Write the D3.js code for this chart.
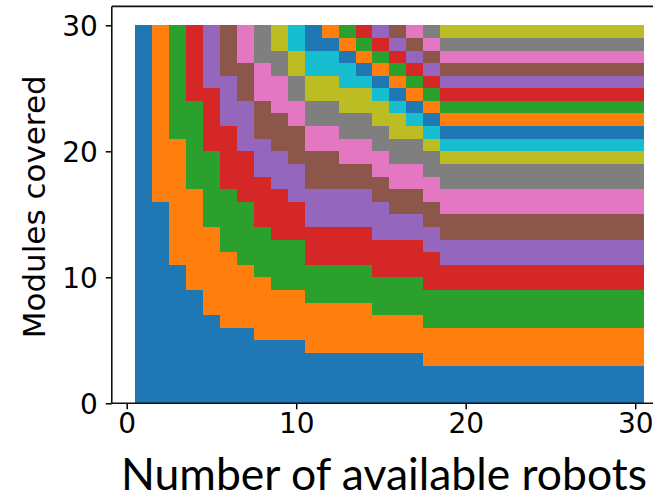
<!DOCTYPE html>
<html>
<head>
<meta charset="utf-8">
<script src="https://cdn.jsdelivr.net/npm/d3@7"></script>
<style>
  html, body { margin: 0; padding: 0; background: #fff; }
  svg { display: block; }
</style>
</head>
<body>
<svg id="chart" width="653" height="503"></svg>
<script>
// number of robots available (x categories)
const fleetSizes = [1, 2, 3, 4, 5, 6, 7, 8, 9, 10, 11, 12, 13, 14, 15,
  16, 17, 18, 19, 20, 21, 22, 23, 24, 25, 26, 27, 28, 29, 30];

// modules covered by robot 1, 2, 3, ... for each fleet size
const modulesByFleet = [
  [30],
  [16, 14],
  [11, 10, 9],
  [9, 8, 7, 6],
  [7, 7, 6, 5, 5],
  [6, 6, 5, 5, 4, 4],
  [6, 5, 5, 4, 4, 3, 3],
  [5, 5, 4, 4, 3, 3, 3, 3],
  [5, 4, 4, 4, 3, 3, 3, 2, 2],
  [5, 4, 4, 3, 3, 3, 2, 2, 2, 2],
  [4, 4, 3, 3, 3, 3, 2, 2, 2, 2, 2],
  [4, 4, 3, 3, 3, 3, 2, 2, 2, 2, 1, 1],
  [4, 4, 3, 3, 3, 2, 2, 2, 2, 2, 1, 1, 1],
  [4, 4, 3, 3, 3, 2, 2, 2, 2, 1, 1, 1, 1, 1],
  [4, 3, 3, 3, 3, 2, 2, 2, 2, 1, 1, 1, 1, 1, 1],
  [4, 3, 3, 3, 2, 2, 2, 2, 2, 1, 1, 1, 1, 1, 1, 1],
  [4, 3, 3, 3, 2, 2, 2, 2, 1, 1, 1, 1, 1, 1, 1, 1, 1],
  [3, 3, 3, 3, 2, 2, 2, 2, 1, 1, 1, 1, 1, 1, 1, 1, 1, 1],
  [3, 3, 3, 2, 2, 2, 2, 2, 1, 1, 1, 1, 1, 1, 1, 1, 1, 1, 1],
  [3, 3, 3, 2, 2, 2, 2, 2, 1, 1, 1, 1, 1, 1, 1, 1, 1, 1, 1],
  [3, 3, 3, 2, 2, 2, 2, 2, 1, 1, 1, 1, 1, 1, 1, 1, 1, 1, 1],
  [3, 3, 3, 2, 2, 2, 2, 2, 1, 1, 1, 1, 1, 1, 1, 1, 1, 1, 1],
  [3, 3, 3, 2, 2, 2, 2, 2, 1, 1, 1, 1, 1, 1, 1, 1, 1, 1, 1],
  [3, 3, 3, 2, 2, 2, 2, 2, 1, 1, 1, 1, 1, 1, 1, 1, 1, 1, 1],
  [3, 3, 3, 2, 2, 2, 2, 2, 1, 1, 1, 1, 1, 1, 1, 1, 1, 1, 1],
  [3, 3, 3, 2, 2, 2, 2, 2, 1, 1, 1, 1, 1, 1, 1, 1, 1, 1, 1],
  [3, 3, 3, 2, 2, 2, 2, 2, 1, 1, 1, 1, 1, 1, 1, 1, 1, 1, 1],
  [3, 3, 3, 2, 2, 2, 2, 2, 1, 1, 1, 1, 1, 1, 1, 1, 1, 1, 1],
  [3, 3, 3, 2, 2, 2, 2, 2, 1, 1, 1, 1, 1, 1, 1, 1, 1, 1, 1],
  [3, 3, 3, 2, 2, 2, 2, 2, 1, 1, 1, 1, 1, 1, 1, 1, 1, 1, 1]
];

const xTicks = [0, 10, 20, 30];
const yTicks = [0, 10, 20, 30];

const svg = d3.select("#chart");

const x = d3.scaleLinear().domain([0, 30]).range([126.7, 635.2]);
const y = d3.scaleLinear().domain([0, 30]).range([403.3, 25.3]);
const xMin = -0.88, xMax = 32, yMax = 31.5;

const robotKeys = d3.range(fleetSizes.length);
const rows = fleetSizes.map((n, i) => ({ fleet: n, modules: modulesByFleet[i] }));

const series = d3.stack()
  .keys(robotKeys)
  .value((d, k) => d.modules[k] || 0)(rows);

const colors = d3.schemeCategory10;

svg.append("g")
  .attr("shape-rendering", "crispEdges")
  .selectAll("g")
  .data(series)
  .join("g")
  .attr("fill", (s) => colors[s.key % 10])
  .selectAll("rect")
  .data((s) => s.filter((d) => d[1] > d[0]))
  .join("rect")
  .attr("x", (d) => Math.round(x(d.data.fleet - 0.5)))
  .attr("width", (d) => Math.round(x(d.data.fleet + 0.5)) - Math.round(x(d.data.fleet - 0.5)))
  .attr("y", (d) => Math.round(y(d[1])))
  .attr("height", (d) => Math.round(y(d[0])) - Math.round(y(d[1])));

// axes
const tickFont = (g) => g.selectAll(".tick text")
  .attr("font-family", "'DejaVu Sans', sans-serif")
  .attr("font-size", 28)
  .attr("fill", "#000");

const xAxis = svg.append("g")
  .attr("transform", `translate(0,${y(0)})`)
  .call(d3.axisBottom(x).tickValues(xTicks).tickSize(6).tickPadding(4))
  .call(tickFont);
xAxis.select(".domain").remove();

const yAxis = svg.append("g")
  .attr("transform", `translate(${x(xMin)},0)`)
  .call(d3.axisLeft(y).tickValues(yTicks).tickSize(6).tickPadding(8))
  .call(tickFont);
yAxis.select(".domain").remove();
yAxis.selectAll(".tick text").attr("dy", "0.36em");
svg.selectAll(".tick line").attr("stroke", "#000").attr("stroke-width", 1.5);

// spines
const spines = svg.append("g").attr("stroke", "#111").attr("stroke-width", 1.6).attr("fill", "none");
spines.append("line").attr("x1", x(xMin)).attr("x2", x(xMin)).attr("y1", y(yMax)).attr("y2", y(0));
spines.append("line").attr("x1", x(xMin)).attr("x2", x(xMax)).attr("y1", y(0)).attr("y2", y(0));
spines.append("line").attr("x1", x(xMin)).attr("x2", x(xMax)).attr("y1", y(yMax)).attr("y2", y(yMax));

// axis titles
svg.append("text")
  .attr("transform", `translate(45,${(y(0) + y(yMax)) / 2 + 2}) rotate(-90)`)
  .attr("text-anchor", "middle")
  .attr("font-family", "'DejaVu Sans', sans-serif")
  .attr("font-size", 31)
  .text("Modules covered");

svg.append("text")
  .attr("x", 121)
  .attr("y", 490)
  .attr("textLength", 526)
  .attr("lengthAdjust", "spacingAndGlyphs")
  .attr("font-family", "Lato, sans-serif")
  .attr("font-size", 45)
  .text("Number of available robots");
</script>
</body>
</html>
